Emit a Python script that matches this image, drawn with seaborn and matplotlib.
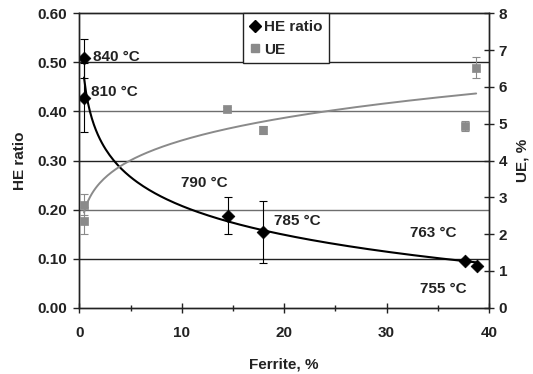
import numpy as np
import matplotlib
matplotlib.use("Agg")
import matplotlib.pyplot as plt
import seaborn as sns
from matplotlib.ticker import MultipleLocator, FormatStrFormatter
from matplotlib.lines import Line2D

# HE ratio data (left axis)
he_ferrite = [0.46, 0.46, 14.55, 17.97, 37.7, 38.8]
he_ratio = [0.508, 0.428, 0.1875, 0.155, 0.095, 0.085]
he_err = [0.04, 0.07, 0.038, 0.063, 0.0, 0.0]
he_temps = ["840 °C", "810 °C", "790 °C", "785 °C", "763 °C", "755 °C"]

# UE data (right axis)
ue_ferrite = [0.46, 0.46, 14.45, 17.97, 37.7, 38.75]
ue_values = [2.80, 2.36, 5.41, 4.83, 4.94, 6.52]
ue_err = [0.28, 0.37, 0.05, 0.12, 0.13, 0.28]

sns.set_style("white")
plt.rcParams["font.family"] = ["Liberation Sans", "DejaVu Sans"]
plt.rcParams["font.weight"] = "bold"

FS = 11
ink = "#222222"
gray = "#8a8a8a"

fig = plt.figure(figsize=(5.33, 3.74), dpi=100)
ax = fig.add_axes([0.1488, 0.1773, 0.7686, 0.7871])
ax2 = ax.twinx()

# horizontal gridlines
for i, g in enumerate([0.1, 0.2, 0.3, 0.4, 0.5]):
    ax.axhline(g, color=ink if i % 2 == 0 else "#6e6e6e", lw=1.0, zorder=0)

# logarithmic trend for HE ratio, fitted from the points
hx = np.array(he_ferrite)
hy = np.array(he_ratio)
b, a = np.polyfit(np.log(hx), hy, 1)
xs = np.linspace(hx.min(), hx.max(), 200)
sns.lineplot(x=xs, y=a + b * np.log(xs), ax=ax, color="black", lw=1.5, zorder=3)

# power trend for UE, fitted from the points
ux = np.array(ue_ferrite)
uy = np.array(ue_values)
pb, pa = np.polyfit(np.log(ux), np.log(uy), 1)
xs2 = np.linspace(ux.min(), ux.max(), 200)
sns.lineplot(x=xs2, y=np.exp(pa) * xs2 ** pb, ax=ax2, color=gray, lw=1.4, zorder=3)

# error bars and markers
ax.errorbar(he_ferrite, he_ratio, yerr=he_err, fmt="none", ecolor="black",
            elinewidth=0.8, capsize=3, capthick=0.8, zorder=4)
sns.scatterplot(x=he_ferrite, y=he_ratio, ax=ax, marker="D", color="black",
                s=42, edgecolor="black", zorder=5)
ax2.errorbar(ue_ferrite, ue_values, yerr=ue_err, fmt="none", ecolor=gray,
             elinewidth=0.8, capsize=3, capthick=0.8, zorder=4)
sns.scatterplot(x=ue_ferrite, y=ue_values, ax=ax2, marker="s", color=gray,
                s=40, edgecolor=gray, zorder=5)

# temperature labels
label_pos = [(1.34, 0.51), (1.15, 0.44), (9.9, 0.2535),
             (19.0, 0.177), (32.3, 0.152), (33.3, 0.038)]
for t, (tx, ty) in zip(he_temps, label_pos):
    ax.text(tx, ty, t, fontsize=FS, fontweight="bold", ha="left", va="center",
            color=ink, zorder=6)

# axes limits and ticks
ax.set_xlim(0, 40)
ax.set_ylim(0, 0.6)
ax2.set_ylim(0, 8)
ax.xaxis.set_major_locator(MultipleLocator(10))
ax.xaxis.set_minor_locator(MultipleLocator(5))
ax.yaxis.set_major_locator(MultipleLocator(0.1))
ax.yaxis.set_major_formatter(FormatStrFormatter("%.2f"))
ax2.yaxis.set_major_locator(MultipleLocator(1))

ax.tick_params(axis="x", which="major", direction="inout", length=7, width=1,
               labelsize=FS, pad=10, bottom=True, colors=ink)
ax.tick_params(axis="x", which="minor", direction="inout", length=5, width=1,
               bottom=True, color=ink)
ax.tick_params(axis="y", direction="out", length=4, width=1, labelsize=FS,
               pad=5, left=True, colors=ink)
ax2.tick_params(axis="y", direction="inout", length=7, width=1, labelsize=FS,
                right=True, colors=ink)
for lab in ax.get_xticklabels() + ax.get_yticklabels() + ax2.get_yticklabels():
    lab.set_fontweight("bold")

for axis in (ax, ax2):
    for sp in axis.spines.values():
        sp.set_color(ink)
        sp.set_linewidth(1.0)

ax.set_xlabel("Ferrite, %", fontsize=FS, fontweight="bold", labelpad=12, color=ink)
ax.set_ylabel("HE ratio", fontsize=FS, fontweight="bold", labelpad=7, color=ink)
ax2.set_ylabel("UE, %", fontsize=FS, fontweight="bold", labelpad=6, color=ink)

# legend
handles = [
    Line2D([], [], marker="D", color="black", ls="none", markersize=6),
    Line2D([], [], marker="s", color=gray, ls="none", markersize=6),
]
leg = ax2.legend(handles, ["HE ratio", "UE"], loc="upper left",
                 bbox_to_anchor=(0.4, 1.0), borderaxespad=0, frameon=True,
                 fancybox=False, framealpha=1, edgecolor=ink, handlelength=0.6,
                 handletextpad=0.3, borderpad=0.45, labelspacing=0.55,
                 prop={"weight": "bold", "size": FS})
leg.get_frame().set_linewidth(1.0)
leg.set_zorder(10)

fig.savefig("out.png", dpi=100)
